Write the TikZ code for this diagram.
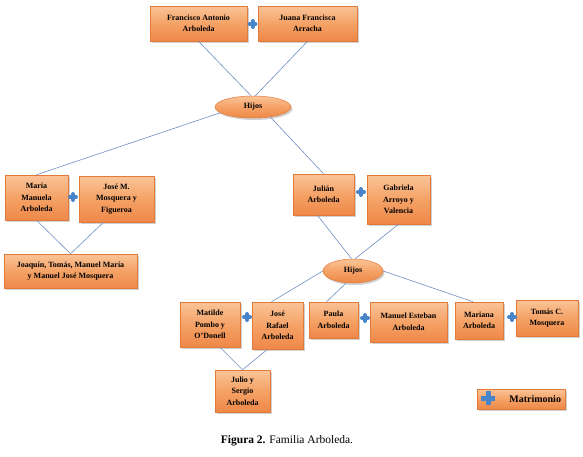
\documentclass[tikz,border=0pt]{standalone}
\usepackage{fontspec}
\setmainfont{Liberation Serif}
\usetikzlibrary{shapes.geometric,shadows}
\definecolor{oTop}{RGB}{250,196,152}
\definecolor{oMid}{RGB}{245,162,102}
\definecolor{oBot}{RGB}{238,136,72}
\definecolor{oEdge}{RGB}{226,122,58}
\definecolor{linkc}{RGB}{112,142,196}
\definecolor{plusc}{RGB}{72,132,202}
\tikzset{
  person/.style={draw=oEdge, line width=0.5pt, top color=oTop, bottom color=oBot, middle color=oMid,
    align=center, inner sep=1pt, font=\bfseries\fontsize{8}{11.5}\selectfont,
    drop shadow={shadow xshift=1.5pt, shadow yshift=-2pt, opacity=0.3, fill=black!60}},
  hijos/.style={ellipse, draw=oEdge, line width=0.5pt, top color=oTop, bottom color=oBot, middle color=oMid,
    inner sep=0pt, font=\bfseries\fontsize{8}{10}\selectfont,
    drop shadow={shadow xshift=1.5pt, shadow yshift=-2pt, opacity=0.3, fill=black!60}},
  link/.style={draw=linkc, line width=0.6pt},
  plusarm/.style={draw=plusc, line width=4pt, line cap=round},
  legendplus/.style={draw=plusc, line width=5pt}
}
\begin{document}
\begin{tikzpicture}[x=1pt,y=-1pt]
\useasboundingbox (0,0) rectangle (583,456);
% generation 1
\node[person, minimum width=97, minimum height=35] (F) at (198.5,23.5) {Francisco Antonio\\Arboleda};
\node[person, minimum width=99, minimum height=35] (J) at (307.5,23.5) {Juana Francisca\\Arracha};
\node[hijos, minimum width=76, minimum height=22] (h1) at (253,107) {Hijos};
% generation 2
\node[person, minimum width=63, minimum height=45] (M) at (36.5,197.5) {María\\Manuela\\Arboleda};
\node[person, minimum width=75, minimum height=46] (JM) at (116.5,199) {José M.\\Mosquera y\\Figueroa};
\node[person, minimum width=133, minimum height=34] (Jq) at (70.5,271) {Joaquín, Tomás, Manuel María\\y Manuel José Mosquera};
\node[person, minimum width=61, minimum height=41] (Ju) at (323.5,194.5) {Julián\\Arboleda};
\node[person, minimum width=63, minimum height=49] (Ga) at (398.5,199.5) {Gabriela\\Arroyo y\\Valencia};
\node[hijos, minimum width=60, minimum height=24] (h2) at (353,271) {Hijos};
% generation 3
\node[person, minimum width=60, minimum height=45] (Mt) at (210,324.5) {Matilde\\Pombo y\\O’Donell};
\node[person, minimum width=51, minimum height=47] (JR) at (277.5,325.5) {José\\Rafael\\Arboleda};
\node[person, minimum width=49, minimum height=36] (Pa) at (333.5,320) {Paula\\Arboleda};
\node[person, minimum width=77, minimum height=40] (ME) at (408.5,322) {Manuel Esteban\\Arboleda};
\node[person, minimum width=48, minimum height=37] (Ma) at (479,320.5) {Mariana\\Arboleda};
\node[person, minimum width=62, minimum height=36] (TC) at (547,318) {Tomás C.\\Mosquera};
\node[person, minimum width=55, minimum height=42] (JS) at (242.5,391) {Julio y\\Sergio\\Arboleda};
% legend
\node[person, minimum width=88, minimum height=20, text width=80, align=right,
      font=\bfseries\fontsize{10}{12}\selectfont] (leg) at (521,399) {Matrimonio\hspace*{4pt}};
% connectors
\draw[link] (F.south) -- (h1.100);
\draw[link] (J.south) -- (h1.78);
\draw[link] (h1.190) -- (M.north);
\draw[link] (h1.330) -- (Ju.north);
\draw[link] (M.south) -- (Jq.north);
\draw[link] ([xshift=-13pt]JM.south) -- (Jq.north);
\draw[link] ([xshift=-6pt]Ju.south) -- (h2.97);
\draw[link] (Ga.south) -- (h2.80);
\draw[link] (h2.west) -- ([xshift=-6pt]JR.north);
\draw[link] (h2.240) -- ([xshift=-7pt]Pa.north);
\draw[link] (h2.east) -- ([xshift=-6pt]Ma.north);
\draw[link] ([xshift=10pt]Mt.south) -- (JS.north);
\draw[link] ([xshift=-10pt]JR.south) -- (JS.north);
% marriage signs
\foreach \px/\py in {252.5/24, 73/197, 361/192, 247/317, 365/318, 512/317}{
  \draw[plusarm] (\px-3,\py) -- (\px+3,\py) (\px,\py-3) -- (\px,\py+3);
}
\draw[legendplus] (481,398) -- (495,398) (488,391) -- (488,405);
% caption
\node[font=\fontsize{11.5}{13}\selectfont] (cap) at (287,441) {\textbf{Figura 2.} Familia Arboleda.};
\end{tikzpicture}
\end{document}
